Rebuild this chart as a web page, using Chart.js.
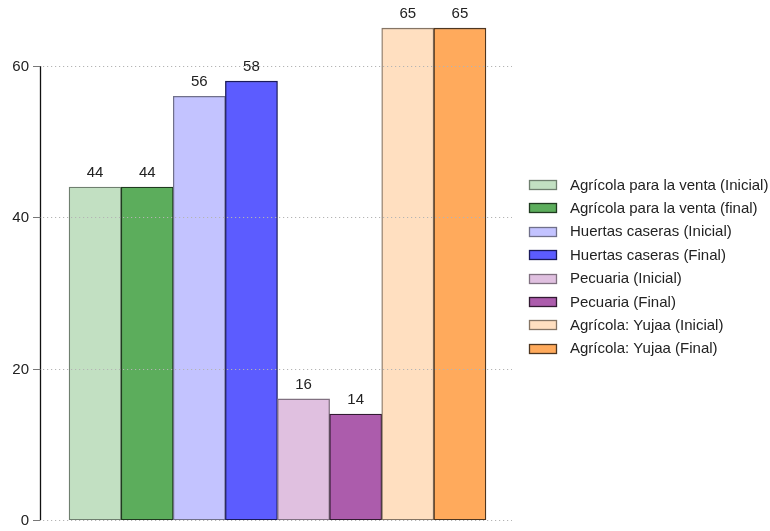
<!DOCTYPE html>
<html>
<head>
<meta charset="utf-8">
<script src="https://cdn.jsdelivr.net/npm/chart.js@4/dist/chart.umd.min.js"></script>
<style>
  html, body { margin: 0; padding: 0; background: #ffffff; }
  #wrap { width: 770px; height: 531px; }
</style>
</head>
<body>
<div id="wrap"><canvas id="c" width="770" height="531"></canvas></div>
<script>
// Activity categories (one bar each, in order)
const categories = [
  'Agrícola para la venta (Inicial)',
  'Agrícola para la venta (final)',
  'Huertas caseras (Inicial)',
  'Huertas caseras (Final)',
  'Pecuaria (Inicial)',
  'Pecuaria (Final)',
  'Agrícola: Yujaa (Inicial)',
  'Agrícola: Yujaa (Final)'
];
// Values per category
const values = [44, 44, 56, 58, 16, 14, 65, 65];
// Y axis tick labels
const yTicks = [0, 20, 40, 60];

// Bar styling
const fills = ['#c2e0c2', '#5cad5c', '#c3c3ff', '#5c5cff', '#e0c0e0', '#ac5cac', '#ffdfc0', '#ffaa5c'];
const borders = ['#6f7f6f', '#1f3a1f', '#70708a', '#1a1a5a', '#807080', '#321a32', '#857565', '#4e3620'];

const FONT = '"Liberation Sans", Arial, sans-serif';
const TEXT = '#222222';

const overlay = {
  id: 'overlay',
  afterDatasetsDraw(chart) {
    const ctx = chart.ctx;
    const y = chart.scales.y;
    const area = chart.chartArea;
    ctx.save();

    // dotted horizontal guides
    ctx.strokeStyle = '#b4b4b4';
    ctx.lineWidth = 1;
    ctx.setLineDash([1.2, 2.8]);
    yTicks.forEach(v => {
      const py = Math.round(y.getPixelForValue(v)) + 0.5;
      ctx.beginPath();
      ctx.moveTo(area.left, py);
      ctx.lineTo(area.right, py);
      ctx.stroke();
    });
    ctx.setLineDash([]);

    // y axis line spanning the tick range
    const axisX = 40.5;
    ctx.strokeStyle = '#111111';
    ctx.lineWidth = 1.3;
    ctx.beginPath();
    ctx.moveTo(axisX, y.getPixelForValue(yTicks[0]));
    ctx.lineTo(axisX, y.getPixelForValue(yTicks[yTicks.length - 1]));
    ctx.stroke();

    // tick marks and tick labels
    ctx.font = '15px ' + FONT;
    ctx.textAlign = 'right';
    ctx.textBaseline = 'middle';
    yTicks.forEach(v => {
      const py = Math.round(y.getPixelForValue(v)) + 0.5;
      ctx.strokeStyle = '#777777';
      ctx.lineWidth = 1;
      ctx.beginPath();
      ctx.moveTo(33, py);
      ctx.lineTo(axisX, py);
      ctx.stroke();
      ctx.fillStyle = TEXT;
      ctx.fillText(String(v), 29, py + 0.5);
    });

    // value labels above bars
    const meta = chart.getDatasetMeta(0);
    ctx.fillStyle = TEXT;
    ctx.textAlign = 'center';
    ctx.textBaseline = 'alphabetic';
    meta.data.forEach((bar, i) => {
      ctx.fillText(String(values[i]), bar.x, bar.y - 10);
    });

    // legend
    const lx = 529.5, tx = 570, ly0 = 185, step = 23.4;
    ctx.textAlign = 'left';
    ctx.textBaseline = 'middle';
    categories.forEach((name, i) => {
      const cy = ly0 + i * step;
      const by = Math.round(cy - 5) + 0.5;
      ctx.fillStyle = fills[i];
      ctx.fillRect(lx, by, 27, 9);
      ctx.strokeStyle = borders[i];
      ctx.lineWidth = 1.3;
      ctx.strokeRect(lx, by, 27, 9);
      ctx.fillStyle = TEXT;
      ctx.fillText(name, tx, cy + 0.5);
    });

    ctx.restore();
  }
};

new Chart(document.getElementById('c'), {
  type: 'bar',
  data: {
    labels: categories,
    datasets: [{
      data: values.map((v, i) => ({ x: i + 1, y: v })),
      backgroundColor: fills,
      borderColor: borders,
      borderWidth: 1.3,
      borderSkipped: false,
      barPercentage: 1,
      categoryPercentage: 1
    }]
  },
  options: {
    responsive: false,
    devicePixelRatio: 1,
    animation: false,
    layout: { padding: { top: 5.5, bottom: 11, left: 0, right: 258 } },
    plugins: {
      legend: { display: false },
      tooltip: { enabled: false }
    },
    scales: {
      x: { type: 'linear', min: 0, max: 9, offset: false, display: false },
      y: {
        min: 0,
        max: 68,
        afterBuildTicks(scale) { scale.ticks = yTicks.map(v => ({ value: v })); },
        afterFit(scale) { scale.width = 43; },
        grid: { display: false, drawTicks: false },
        border: { display: false },
        ticks: { display: false }
      }
    }
  },
  plugins: [overlay]
});
</script>
</body>
</html>
